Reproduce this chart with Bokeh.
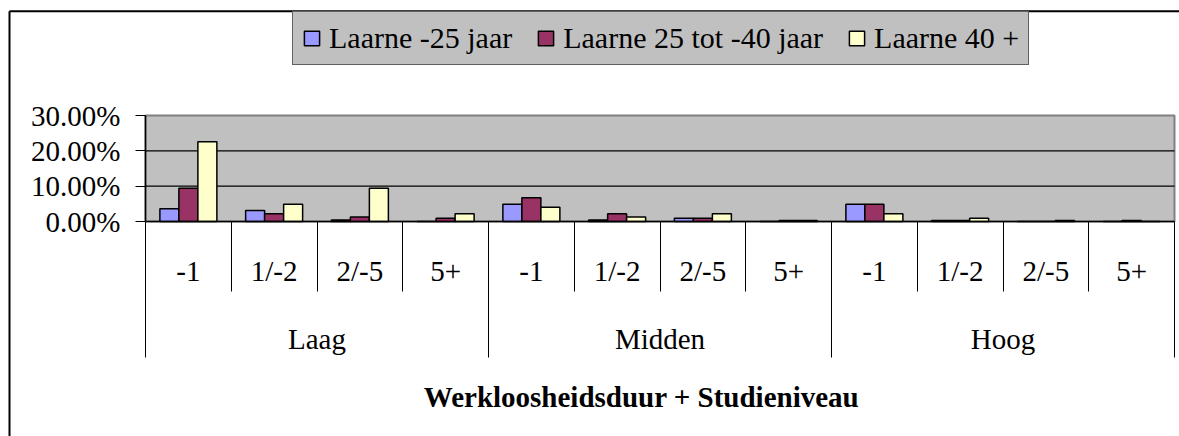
from bokeh.plotting import figure
from bokeh.models import (Range1d, LinearAxis, FixedTicker, PrintfTickFormatter,
                          Legend, LegendItem, Label, ColumnDataSource)
from bokeh.transform import dodge
from bokeh.embed import file_html
from bokeh.resources import INLINE

# ---------------- data ----------------
levels = ["Laag", "Midden", "Hoog"]
durations = ["-1", "1/-2", "2/-5", "5+"]
series_names = ["Laarne -25 jaar", "Laarne 25 tot -40 jaar", "Laarne 40 +"]
under25 = [3.6, 3.1, 0.4, 0.0, 4.9, 0.4, 0.9, 0.0, 4.9, 0.3, 0.0, 0.0]
from25to40 = [9.4, 2.2, 1.3, 0.9, 6.7, 2.2, 0.9, 0.3, 4.9, 0.3, 0.0, 0.3]
over40 = [22.6, 4.9, 9.4, 2.2, 4.0, 1.3, 2.2, 0.3, 2.2, 0.9, 0.3, 0.0]
y_ticks = [0, 10, 20, 30]
x_title = "Werkloosheidsduur + Studieniveau"
colors = ["#9999FF", "#993366", "#FFFFCC"]

# ---------------- layout constants ----------------
W, H = 1179, 436
PLOT_LEFT = 145          # px from figure left to value axis
ZERO_Y = 221             # px from figure top to the 0% line
CAT_PX = 85.75           # px per category
PCT_PX = 106 / 30        # px per percent
FONT = "Liberation Serif"
FS = "29px"

n_cat = len(levels) * len(durations)
xs = [i + 0.5 for i in range(n_cat)]
src = ColumnDataSource(dict(x=xs, a=under25, b=from25to40, c=over40))

p = figure(width=W, height=H,
           x_range=Range1d(-PLOT_LEFT / CAT_PX, (W - PLOT_LEFT) / CAT_PX),
           y_range=Range1d(-(H - ZERO_Y) / PCT_PX, ZERO_Y / PCT_PX),
           x_axis_type=None, y_axis_type=None,
           toolbar_location=None, output_backend="svg",
           min_border=0, outline_line_color=None,
           background_fill_color="white", border_fill_color="white")
p.min_border_left = p.min_border_right = p.min_border_top = p.min_border_bottom = 0

# outer chart border (left and top visible)
bx = (9 - PLOT_LEFT) / CAT_PX
by = (ZERO_Y - 10.7) / PCT_PX
p.segment(x0=[bx, bx], y0=[by, by], x1=[bx, p.x_range.end], y1=[p.y_range.start, by],
          line_color="black", line_width=2)

# plot area
p.quad(left=0, right=n_cat, bottom=y_ticks[0], top=y_ticks[-1],
       fill_color="#C0C0C0", line_color="#808080", line_width=2)
p.segment(x0=[0] * (len(y_ticks) - 2), x1=[n_cat] * (len(y_ticks) - 2),
          y0=y_ticks[1:-1], y1=y_ticks[1:-1], line_color="black", line_width=1.3)

bw = 19 / CAT_PX
renderers = []
for key, off, col in zip(["a", "b", "c"], [-bw, 0, bw], colors):
    r = p.vbar(x=dodge("x", off), top=key, width=bw, source=src,
               fill_color=col, line_color="black", line_width=1.5)
    renderers.append(r)

# value axis
yax = LinearAxis(fixed_location=0, bounds=(y_ticks[0], y_ticks[-1]),
                 ticker=FixedTicker(ticks=y_ticks),
                 formatter=PrintfTickFormatter(format="%.2f%%"),
                 major_tick_out=10, major_tick_in=0, minor_tick_out=0, minor_tick_in=0,
                 major_tick_line_color="black", axis_line_color="black", axis_line_width=1.5,
                 major_label_standoff=15,
                 major_label_text_font=FONT, major_label_text_font_size=FS,
                 major_label_text_color="black")
p.add_layout(yax, "left")

# category separators (short) + x axis line
sep_ax = LinearAxis(fixed_location=0, bounds=(0, n_cat),
                    ticker=FixedTicker(ticks=list(range(n_cat + 1))),
                    major_tick_out=70, major_tick_in=0, minor_tick_out=0, minor_tick_in=0,
                    major_tick_line_color="black", axis_line_color="black", axis_line_width=1.5,
                    major_label_text_color=None, major_label_text_font_size="1px")
p.add_layout(sep_ax, "below")

# group separators (long)
grp_ticks = [i * len(durations) for i in range(len(levels) + 1)]
grp_sep = LinearAxis(fixed_location=0, bounds=(0, n_cat),
                     ticker=FixedTicker(ticks=grp_ticks),
                     major_tick_out=136, major_tick_in=0, minor_tick_out=0, minor_tick_in=0,
                     major_tick_line_color="black", axis_line_color=None,
                     major_label_text_color=None, major_label_text_font_size="1px")
p.add_layout(grp_sep, "below")

# duration labels
dur_labels = {xs[i]: durations[i % len(durations)] for i in range(n_cat)}
dur_ax = LinearAxis(fixed_location=0, bounds=(0, n_cat),
                    ticker=FixedTicker(ticks=xs),
                    major_label_overrides=dur_labels,
                    major_tick_out=0, major_tick_in=0, minor_tick_out=0, minor_tick_in=0,
                    axis_line_color=None, major_tick_line_color=None,
                    major_label_standoff=33,
                    major_label_text_font=FONT, major_label_text_font_size=FS,
                    major_label_text_color="black")
p.add_layout(dur_ax, "below")

# level labels
lvl_pos = [i * len(durations) + len(durations) / 2 for i in range(len(levels))]
lvl_ax = LinearAxis(fixed_location=0, bounds=(0, n_cat),
                    ticker=FixedTicker(ticks=lvl_pos),
                    major_label_overrides={lvl_pos[i]: levels[i] for i in range(len(levels))},
                    major_tick_out=0, major_tick_in=0, minor_tick_out=0, minor_tick_in=0,
                    axis_line_color=None, major_tick_line_color=None,
                    major_label_standoff=101,
                    major_label_text_font=FONT, major_label_text_font_size=FS,
                    major_label_text_color="black")
p.add_layout(lvl_ax, "below")

# axis title
p.add_layout(Label(x=(641 - PLOT_LEFT) / CAT_PX, y=(ZERO_Y - 396) / PCT_PX, text=x_title,
                   text_align="center", text_baseline="alphabetic",
                   text_font=FONT, text_font_size=FS, text_font_style="bold",
                   text_color="black"))

legend = Legend(items=[LegendItem(label=n, renderers=[r]) for n, r in zip(series_names, renderers)],
                orientation="horizontal", location=(292, H - 65),
                label_text_font=FONT, label_text_font_size="30px", label_text_color="black",
                background_fill_color="#C0C0C0", background_fill_alpha=1,
                border_line_color="black", border_line_width=1,
                glyph_width=19, glyph_height=18, label_standoff=8,
                padding=9, spacing=24, margin=0)
p.add_layout(legend)

open("out.html", "w").write(file_html(p, INLINE))
